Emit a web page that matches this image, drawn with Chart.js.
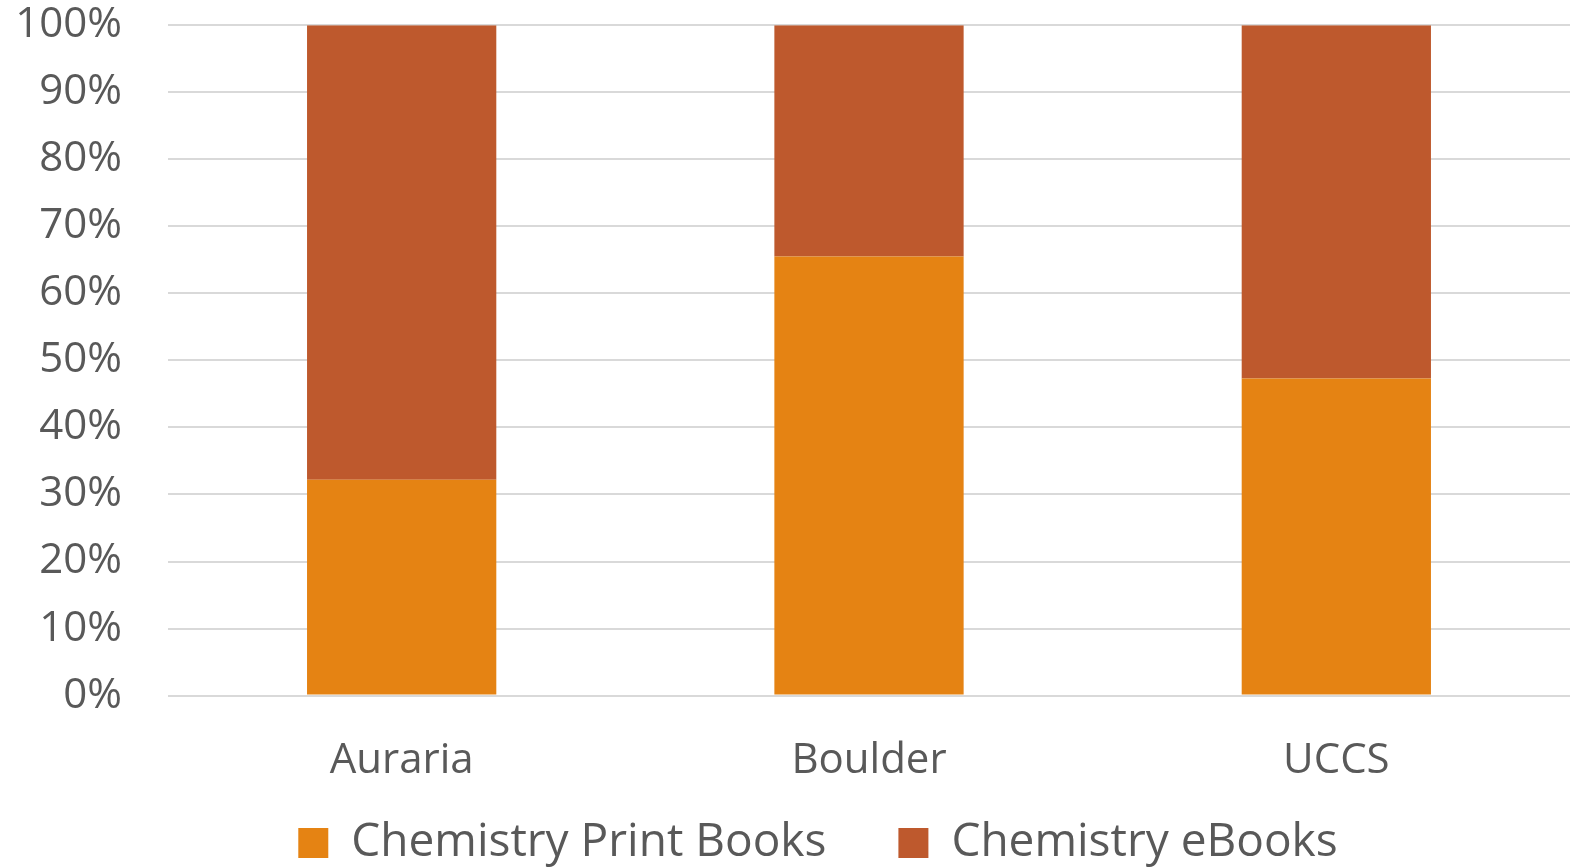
<!DOCTYPE html>
<html>
<head>
<meta charset="utf-8">
<script src="https://cdn.jsdelivr.net/npm/chart.js@4"></script>
<style>
  html, body { margin: 0; padding: 0; background: #fff; }
  #wrap { width: 1570px; height: 868px; }
</style>
</head>
<body>
<div id="wrap"><canvas id="chart"></canvas></div>
<script>
const campuses = ['Auraria', 'Boulder', 'UCCS'];
const printBooks = [32.2, 65.5, 47.3];
const eBooks = [67.8, 34.5, 52.7];
const seriesNames = ['Chemistry Print Books', 'Chemistry eBooks'];

const textColor = '#595959';
const fontFamily = '"Open Sans", sans-serif';

// legend uses a wide item gap, so pull it up and right after layout
const legendShift = {
  id: 'legendShift',
  afterLayout(chart) {
    chart.legend.top -= 71;
    chart.legend.left += 66;
  }
};

let ctx = document.getElementById('chart').getContext('2d');

let config = {
  type: 'bar',
  data: {
    labels: campuses,
    datasets: [
      {
        label: seriesNames[0],
        data: printBooks,
        backgroundColor: '#E58313',
        barPercentage: 0.405,
        categoryPercentage: 1.0
      },
      {
        label: seriesNames[1],
        data: eBooks,
        backgroundColor: '#BE592D',
        barPercentage: 0.405,
        categoryPercentage: 1.0
      }
    ]
  },
  options: {
    responsive: true,
    maintainAspectRatio: false,
    animation: false,
    layout: {
      padding: {top: 4, right: 0, left: 0, bottom: -79}
    },
    scales: {
      x: {
        stacked: true,
        grid: {display: false},
        border: {display: false},
        ticks: {
          color: textColor,
          font: {family: fontFamily, size: 42},
          padding: 32.5
        }
      },
      y: {
        stacked: true,
        min: 0,
        max: 100,
        border: {display: false},
        grid: {color: '#d9d9d9', lineWidth: 2, drawTicks: true, tickLength: 46, tickColor: 'rgba(0,0,0,0)'},
        ticks: {
          stepSize: 10,
          color: textColor,
          font: {family: fontFamily, size: 42},
          padding: 0,
          callback: function(v) { return v + '%'; }
        },
        afterFit: function(scale) { scale.width = 168; }
      }
    },
    plugins: {
      tooltip: {enabled: false},
      legend: {
        position: 'bottom',
        labels: {
          color: textColor,
          font: {family: fontFamily, size: 46},
          boxWidth: 30,
          boxHeight: 30,
          padding: 72
        }
      }
    }
  },
  plugins: [legendShift]
};

window.booksChart = new Chart(ctx, config);
</script>
</body>
</html>
